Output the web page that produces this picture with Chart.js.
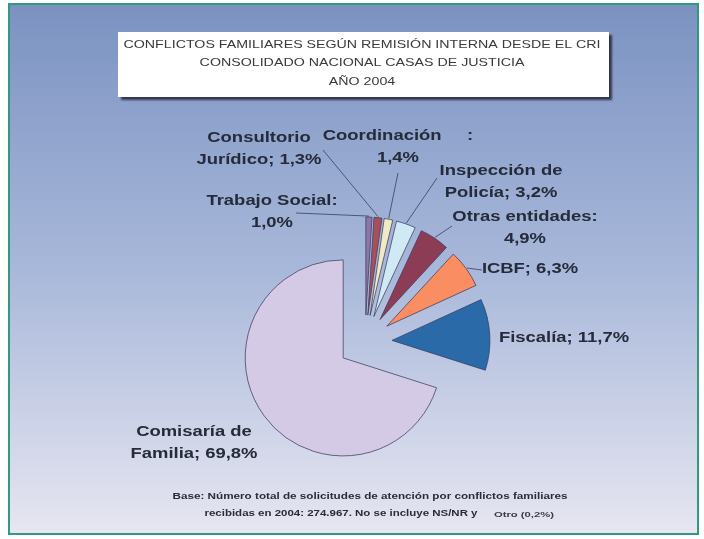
<!DOCTYPE html>
<html>
<head>
<meta charset="utf-8">
<script src="https://cdn.jsdelivr.net/npm/chart.js@4.4.1/dist/chart.umd.min.js"></script>
<style>
html,body{margin:0;padding:0;background:#ffffff;}
#wrap{width:704px;height:539px;position:relative;}
</style>
</head>
<body>
<div id="wrap"><canvas id="c" width="704" height="539"></canvas></div>
<script>
// ---- data ----
const categories = ["Trabajo Social", "Consultorio Jurídico", "Coordinación", "Inspección de Policía", "Otras entidades", "ICBF", "Fiscalía", "Comisaría de Familia"];
const percentages = [1.0, 1.3, 1.4, 3.2, 4.9, 6.3, 11.7, 69.8];
// label wording per slice ({v} = value)
const labelLines = [
  ["Trabajo Social:", "{v}"],
  ["Consultorio", "Jurídico; {v}"],
  ["Coordinación     :", "{v}"],
  ["Inspección de", "Policía; {v}"],
  ["Otras entidades:", "{v}"],
  ["ICBF; {v}"],
  ["Fiscalía; {v}"],
  ["Comisaría de", "Familia; {v}"]
];
const titleLines = ["CONFLICTOS FAMILIARES SEGÚN REMISIÓN INTERNA DESDE EL CRI", "CONSOLIDADO NACIONAL CASAS DE JUSTICIA", "AÑO 2004"];
const footerLine1 = "Base: Número total de solicitudes de atención por conflictos familiares";
const footerLine2 = "recibidas en 2004: 274.967. No se incluye NS/NR y";
const footerLine3 = "Otro (0,2%)";

// ---- styles / layout ----
const sliceColors = ["#8e76a6", "#a5505a", "#f1e9c4", "#cfe9f5", "#8c3c55", "#fb8d62", "#2a6aa8", "#d4cae6"];
const EXPLODE = 27;
// label anchor (center x, first line center y) and leader start point (null = none)
const labelPos = [
  {x: 272, y: 201, lead: [296, 213]},
  {x: 259, y: 138, lead: [323, 150]},
  {x: 398, y: 136, lead: [398, 173]},
  {x: 501, y: 171, lead: [437, 178]},
  {x: 525, y: 217, lead: [452, 226]},
  {x: 530, y: 269, lead: [482, 270]},
  {x: 564, y: 338, lead: null},
  {x: 194, y: 432, lead: null}
];
const LINE_H = 22;

function fmt(v){ return v.toFixed(1).replace('.', ',') + '%'; }

function drawScaled(ctx, text, cx, cy, font, sx, color){
  ctx.save();
  ctx.font = font;
  ctx.fillStyle = color;
  ctx.textAlign = 'center';
  ctx.textBaseline = 'middle';
  ctx.translate(cx, cy);
  ctx.scale(sx, 1);
  ctx.fillText(text, 0, 0);
  ctx.restore();
}
function fitScale(ctx, text, font, width){
  ctx.save(); ctx.font = font; const w = ctx.measureText(text).width; ctx.restore();
  return width / w;
}

const bgPlugin = {
  id: 'bg',
  beforeDraw(chart){
    const ctx = chart.ctx;
    ctx.save();
    ctx.fillStyle = '#ffffff';
    ctx.fillRect(0, 0, chart.width, chart.height);
    const g = ctx.createLinearGradient(0, 5, 0, 534);
    g.addColorStop(0, '#7b92c1');
    g.addColorStop(0.5, '#a8b8da');
    g.addColorStop(1, '#e7e6f1');
    ctx.fillStyle = g;
    ctx.fillRect(9, 4, 689, 530);
    ctx.strokeStyle = '#2f9a7d';
    ctx.lineWidth = 2;
    ctx.strokeRect(9, 4, 689, 530);
    // title box
    ctx.save();
    ctx.shadowColor = 'rgba(20,20,40,0.75)';
    ctx.shadowOffsetX = 3;
    ctx.shadowOffsetY = 3;
    ctx.shadowBlur = 2;
    ctx.fillStyle = '#ffffff';
    ctx.fillRect(118, 32, 491, 65);
    ctx.restore();
    // title text
    const tf = '11px "Liberation Sans", Arial, sans-serif';
    const sx = fitScale(ctx, titleLines[0], tf, 477);
    const ty = [45, 63, 82];
    titleLines.forEach((t, i) => drawScaled(ctx, t, 362, ty[i], tf, sx, '#3a3a3a'));
    // footer
    const ff = 'bold 9px "Liberation Sans", Arial, sans-serif';
    drawScaled(ctx, footerLine1, 370, 497, ff, fitScale(ctx, footerLine1, ff, 395), '#2a2a3a');
    drawScaled(ctx, footerLine2, 341, 514, ff, fitScale(ctx, footerLine2, ff, 273), '#2a2a3a');
    const ff2 = 'bold 8px "Liberation Sans", Arial, sans-serif';
    drawScaled(ctx, footerLine3, 524, 515, ff2, fitScale(ctx, footerLine3, ff2, 60), '#3a3a4a');
    ctx.restore();
  }
};

const explodePlugin = {
  id: 'explode',
  afterDatasetUpdate(chart, args){
    const meta = chart.getDatasetMeta(args.index);
    meta.data.forEach(arc => {
      const mid = (arc.startAngle + arc.endAngle) / 2;
      arc.x += Math.cos(mid) * EXPLODE;
      arc.y += Math.sin(mid) * EXPLODE;
    });
  }
};

const labelPlugin = {
  id: 'sliceLabels',
  afterDatasetsDraw(chart){
    const ctx = chart.ctx;
    const meta = chart.getDatasetMeta(0);
    const lf = 'bold 14px "Liberation Sans", Arial, sans-serif';
    const sx = fitScale(ctx, 'Familia; 69,8%', lf, 127);
    ctx.save();
    meta.data.forEach((arc, i) => {
      const p = labelPos[i];
      if (p.lead){
        const mid = (arc.startAngle + arc.endAngle) / 2;
        const ex = arc.x + Math.cos(mid) * (arc.outerRadius + 1);
        const ey = arc.y + Math.sin(mid) * (arc.outerRadius + 1);
        ctx.beginPath();
        ctx.moveTo(p.lead[0], p.lead[1]);
        ctx.lineTo(ex, ey);
        ctx.strokeStyle = 'rgba(55,65,95,0.8)';
        ctx.lineWidth = 1;
        ctx.stroke();
      }
      const v = fmt(chart.data.datasets[0].data[i]);
      labelLines[i].forEach((ln, k) => {
        drawScaled(ctx, ln.replace('{v}', v), p.x, p.y + k * LINE_H, lf, sx, '#252b3a');
      });
    });
    ctx.restore();
  }
};

new Chart(document.getElementById('c'), {
  type: 'pie',
  data: {
    labels: categories,
    datasets: [{
      data: percentages,
      backgroundColor: sliceColors,
      borderColor: 'rgba(60,60,95,0.75)',
      borderWidth: 1
    }]
  },
  options: {
    responsive: false,
    animation: false,
    events: [],
    radius: 98,
    layout: {padding: {left: 26, right: 0, top: 145, bottom: 0}},
    plugins: {
      legend: {display: false},
      tooltip: {enabled: false},
      title: {display: false}
    }
  },
  plugins: [bgPlugin, explodePlugin, labelPlugin]
});
</script>
</body>
</html>
